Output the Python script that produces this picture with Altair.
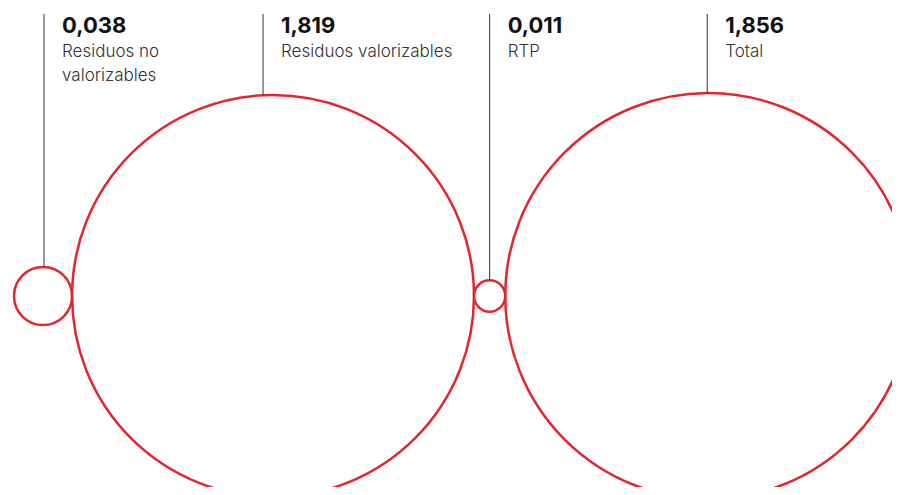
import altair as alt
import numpy as np
import pandas as pd

# ---- data ----
values = [0.038, 1.819, 0.011, 1.856]
value_text = ["0,038", "1,819", "0,011", "1,856"]
labels = ["Residuos no\nvalorizables", "Residuos valorizables", "RTP", "Total"]

# ---- layout / style constants ----
PX = 149.0            # pixels per sqrt-unit
W, H = 884, 479
X0 = 6                # left edge of first circle (plot px)
CY = 288              # circle centre line (plot px)
TOP = 6               # top of leader lines (plot px)
lead_shift_px = [1, -10, 0, -1]
RED = "#e3262e"
FONT = "Inter"

r = np.sqrt(np.array(values))
centers = 2 * np.cumsum(r) - r
shift = np.array(lead_shift_px) / PX

df = pd.DataFrame({
    "value": values,
    "vtext": value_text,
    "label": labels,
    "cx": centers,
    "cy": 0.0,
    "lx": centers + shift,
    "ltop": (CY - TOP) / PX,
    "lbot": np.sqrt(np.maximum(r ** 2 - shift ** 2, 0)),
})

xs = alt.Scale(domain=[-X0 / PX, (W - X0) / PX], nice=False, zero=False)
ys = alt.Scale(domain=[-(H - CY) / PX, CY / PX], nice=False, zero=False)

base = alt.Chart(df)

circles = base.mark_point(shape="circle", filled=False, color=RED,
                          strokeWidth=2.5, opacity=1).encode(
    x=alt.X("cx:Q", scale=xs, axis=None),
    y=alt.Y("cy:Q", scale=ys, axis=None),
    size=alt.Size("value:Q", scale=alt.Scale(domain=[0, 1], range=[0, (2 * PX) ** 2]),
                  legend=None),
)

rules = base.mark_rule(color="#333333", strokeWidth=1).encode(
    x=alt.X("lx:Q", scale=xs, axis=None),
    y=alt.Y("ltop:Q", scale=ys, axis=None),
    y2="lbot:Q",
)

vals = base.mark_text(align="left", baseline="alphabetic", dx=18, dy=19,
                      font=FONT, fontSize=22, fontWeight="bold",
                      color="#111111").encode(
    x=alt.X("lx:Q", scale=xs, axis=None),
    y=alt.Y("ltop:Q", scale=ys, axis=None),
    text="vtext:N",
)

labs = base.mark_text(align="left", baseline="alphabetic", dx=18, dy=43,
                      font=FONT, fontSize=17, fontWeight=300,
                      lineBreak="\n", lineHeight=24,
                      color="#333333").encode(
    x=alt.X("lx:Q", scale=xs, axis=None),
    y=alt.Y("ltop:Q", scale=ys, axis=None),
    text="label:N",
)

chart = alt.layer(circles, rules, vals, labs).properties(
    width=W, height=H, padding=0, autosize=alt.AutoSizeParams(type="none"),
    background="white",
).configure_view(stroke=None)

chart.save("out.html", embed_options={"renderer": "svg", "actions": False})
